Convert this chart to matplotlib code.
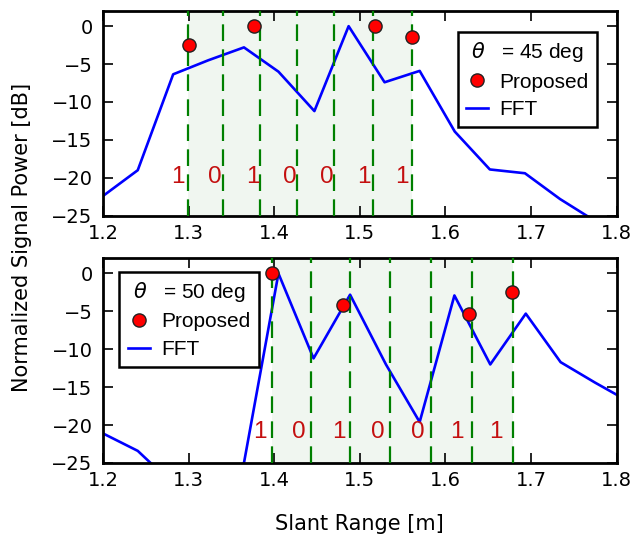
import matplotlib
matplotlib.use("Agg")
import matplotlib.pyplot as plt

plt.rcParams['font.family'] = ['DejaVu Sans']
plt.rcParams['lines.scale_dashes'] = False
plt.rcParams['mathtext.fontset'] = 'dejavusans'

# ---------------- data ----------------
bits = ['1', '0', '1', '0', '0', '1', '1']

# Panel 1: theta = 45 deg
fft1_x = [1.2, 1.2406, 1.282, 1.323, 1.3647, 1.405, 1.447, 1.487, 1.529, 1.570,
          1.611, 1.652, 1.693, 1.734, 1.775, 1.816]
fft1_y = [-22.4, -19.0, -6.35, -4.5, -2.8, -6.0, -11.2, 0.0, -7.4, -5.9,
          -13.9, -18.9, -19.4, -22.8, -25.7, -28.0]
prop1_x = [1.3005, 1.3767, 1.5174, 1.5606]
prop1_y = [-2.49, 0.0, 0.0, -1.47]
bounds1 = [1.2992, 1.3403, 1.383, 1.4267, 1.4703, 1.5156, 1.5614]
bitpos1_start, bitpos1_step = 1.2877, 0.0435

# Panel 2: theta = 50 deg
fft2_x = [1.2, 1.2406, 1.282, 1.323, 1.3647, 1.405, 1.446, 1.4887, 1.5306, 1.570,
          1.6106, 1.6525, 1.694, 1.7347, 1.775, 1.816]
fft2_y = [-21.1, -23.4, -27.8, -30.0, -25.0, 0.0, -11.2, -2.8, -12.0, -19.6,
          -2.9, -12.0, -5.3, -11.7, -14.4, -17.0]
prop2_x = [1.398, 1.4801, 1.6277, 1.6782]
prop2_y = [0.0, -4.17, -5.36, -2.42]
bounds2 = [1.398, 1.4425, 1.4887, 1.5349, 1.5828, 1.6307, 1.679]
bitpos2_start, bitpos2_step = 1.383, 0.0461

xticks = [1.2, 1.3, 1.4, 1.5, 1.6, 1.7, 1.8]
yticks = [0, -5, -10, -15, -20, -25]

panels = [
    dict(fx=fft1_x, fy=fft1_y, px=prop1_x, py=prop1_y, b=bounds1,
         bs=bitpos1_start, bst=bitpos1_step, ty=-19.9,
         title=r'$\theta$   = 45 deg', loc='upper right', anchor=(0.962, 0.897)),
    dict(fx=fft2_x, fy=fft2_y, px=prop2_x, py=prop2_y, b=bounds2,
         bs=bitpos2_start, bst=bitpos2_step, ty=-20.9,
         title=r'$\theta$   = 50 deg', loc='upper left', anchor=(0.032, 0.934)),
]

ARIAL = ['Liberation Sans', 'DejaVu Sans']

fig = plt.figure(figsize=(6.34, 5.40), dpi=100)
L, R = 103 / 634, 616.5 / 634
axes_pos = [(1 - 215.7 / 540, 1 - 11 / 540), (1 - 463 / 540, 1 - 258.3 / 540)]

for p, (b0, t0) in zip(panels, axes_pos):
    ax = fig.add_axes([L, b0, R - L, t0 - b0])
    b = p['b']
    for i in range(len(b) - 1):
        ax.axvspan(b[i], b[i + 1], color='#2e8b2e', alpha=0.07, lw=0, zorder=0)
    ax.plot(p['fx'], p['fy'], color='blue', lw=1.9, label='FFT', zorder=2)
    for x in b:
        ax.axvline(x, color='green', lw=1.6, dashes=(12, 6), zorder=3)
    for i, t in enumerate(bits):
        ax.text(p['bs'] + i * p['bst'], p['ty'], t, color='#c40f0f', fontsize=17.5,
                family=ARIAL, ha='center', va='center', zorder=4)
    ax.plot(p['px'], p['py'], 'o', color='red', mec='#222222', mew=1.0, ms=9.5,
            label='Proposed', zorder=5)
    ax.set_xlim(1.2, 1.8)
    ax.set_ylim(-25, 2)
    ax.set_xticks(xticks)
    ax.set_yticks(yticks)
    ax.tick_params(direction='in', top=True, right=True, length=7, width=1.2,
                   labelsize=14)
    ax.tick_params(axis='x', pad=6)
    ax.tick_params(axis='y', pad=7.5)
    for s in ax.spines.values():
        s.set_linewidth(2.0)
    h, l = ax.get_legend_handles_labels()
    leg = ax.legend([h[1], h[0]], [l[1], l[0]], loc=p['loc'], title=p['title'],
                    bbox_to_anchor=p['anchor'], borderaxespad=0,
                    numpoints=1, prop={'family': ARIAL, 'size': 15},
                    fancybox=False, framealpha=1, edgecolor='black', borderpad=0.4,
                    handlelength=1.05, handletextpad=0.55, labelspacing=0.4)
    leg.get_title().set_fontfamily(ARIAL)
    leg.get_title().set_fontsize(15)
    leg.get_frame().set_linewidth(1.8)

fig.text(0.035, 1 - 237 / 540, 'Normalized Signal Power [dB]',
         rotation=90, va='center', ha='center', fontsize=15)
fig.text((L + R) / 2, 1 - 524 / 540, 'Slant Range [m]', ha='center', va='center',
         fontsize=15)

fig.savefig('out.png', dpi=100)
